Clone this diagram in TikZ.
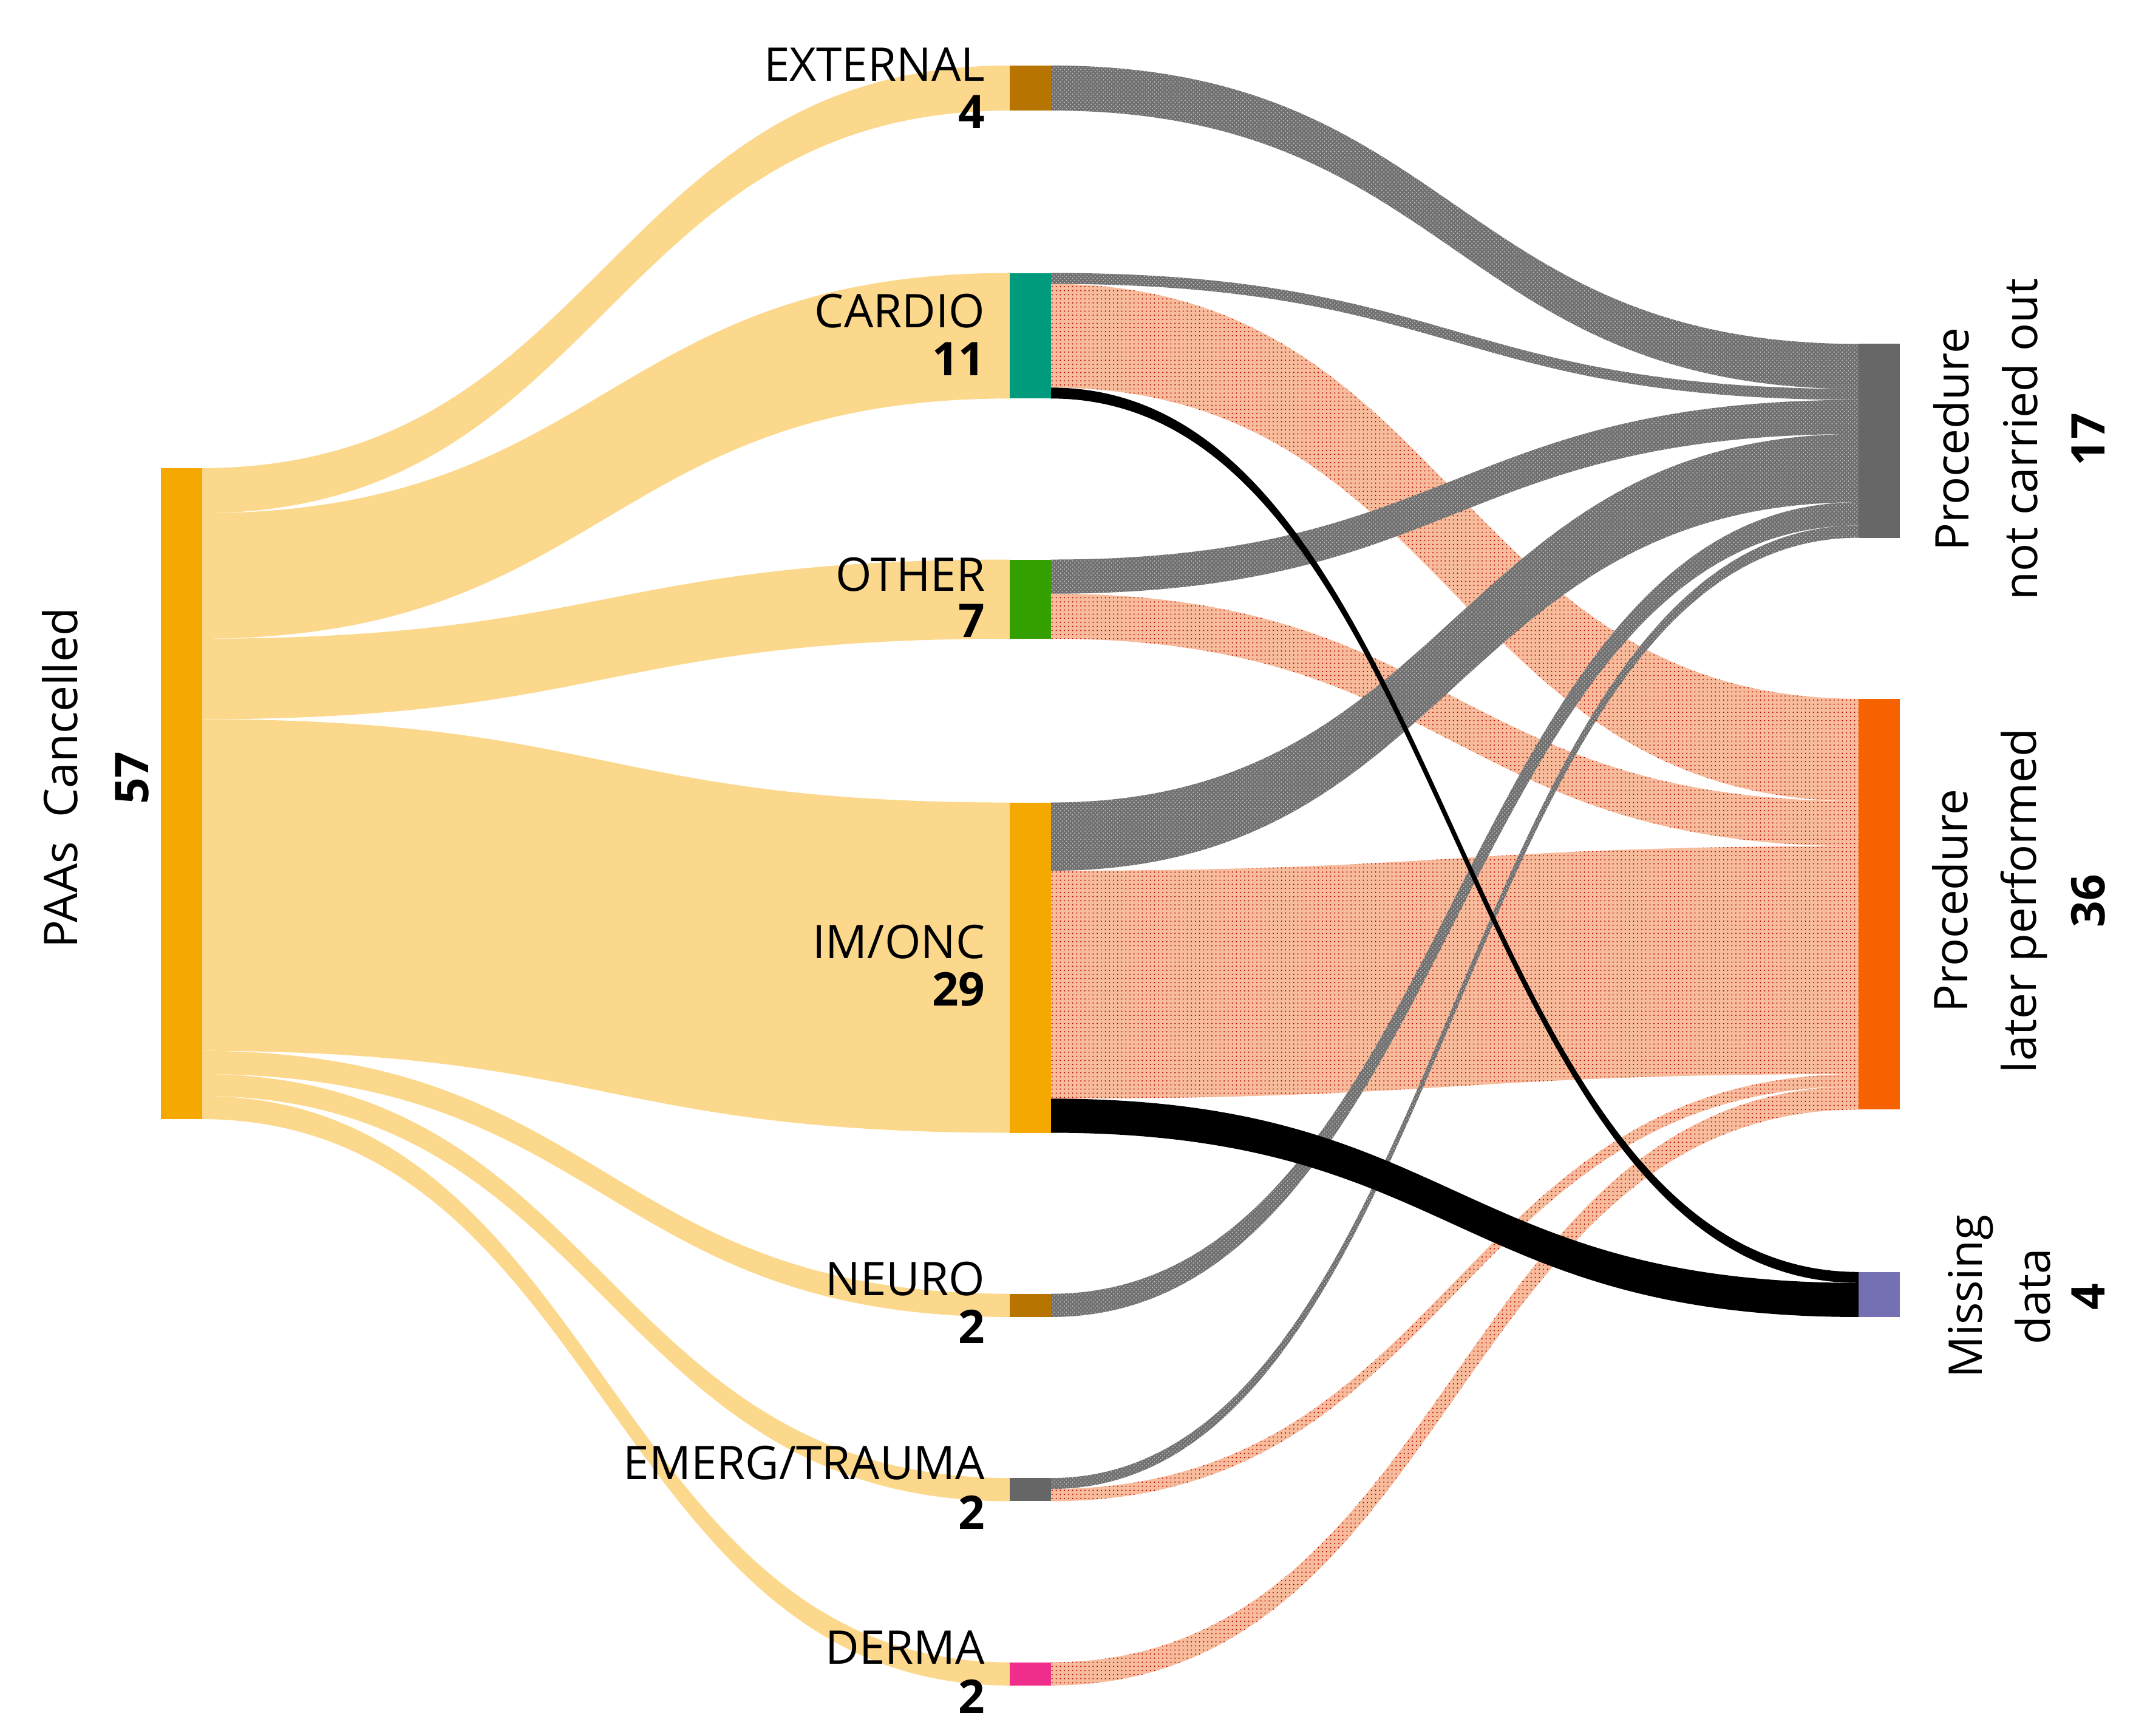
\documentclass[tikz,border=0pt]{standalone}
\usepackage{fontspec}
\setmainfont{Open Sans}
\usetikzlibrary{patterns}
\definecolor{lflow}{HTML}{FCD88C}
\definecolor{gflow}{HTML}{707070}
\definecolor{oflow}{HTML}{F7BC9C}
\definecolor{cpaa}{HTML}{F5A800}
\definecolor{cext}{HTML}{B87400}
\definecolor{ccar}{HTML}{009B7D}
\definecolor{coth}{HTML}{34A000}
\definecolor{cgray}{HTML}{666666}
\definecolor{cder}{HTML}{F02D8A}
\definecolor{cnot}{HTML}{676767}
\definecolor{clat}{HTML}{F66200}
\definecolor{cmis}{HTML}{7570B3}
\tikzset{
 lf/.style={fill=lflow},
 gf/.style={preaction={fill=gflow},pattern=crosshatch dots,pattern color=white!55!gflow},
 of/.style={preaction={fill=oflow},pattern=dots,pattern color=red!70!black},
 bf/.style={fill=black},
 bar/.style={draw=none,inner sep=0pt,outer sep=0pt,anchor=north west,minimum width=30pt},
 lab/.style={font=\fontsize{34}{40}\selectfont,anchor=east,inner sep=0pt},
 num/.style={font=\fontsize{34}{40}\selectfont\bfseries,anchor=east,inner sep=0pt},
 rlab/.style={font=\fontsize{34}{50}\selectfont,rotate=90,align=center,inner sep=0pt},
 rnum/.style={font=\fontsize{34}{40}\selectfont\bfseries,rotate=90,inner sep=0pt}
}
% flow: x1, ya, yb, x2, yc, yd, style
\newcommand{\flw}[7]{\path[#7] (#1,-#2) .. controls ({(#1+#4)/2},-#2) and ({(#1+#4)/2},-#5) .. (#4,-#5) -- (#4,-#6) .. controls ({(#1+#4)/2},-#6) and ({(#1+#4)/2},-#3) .. (#1,-#3) -- cycle;}
\begin{document}
\begin{tikzpicture}[x=1pt,y=1pt]
\useasboundingbox (0,0) rectangle (1563,-1272);
% left flows
\flw{147}{343}{376}{740}{48}{81}{lf}
\flw{147}{376}{468}{740}{200}{292}{lf}
\flw{147}{468}{527}{740}{410}{468}{lf}
\flw{147}{527}{770}{740}{588}{830}{lf}
\flw{147}{770}{787}{740}{948}{965}{lf}
\flw{147}{787}{803}{740}{1083}{1100}{lf}
\flw{147}{803}{820}{740}{1218}{1235}{lf}
% right flows: orange
\flw{770}{208}{284}{1362}{512}{587}{of}
\flw{770}{435}{468}{1362}{587}{620}{of}
\flw{770}{638}{805}{1362}{620}{787}{of}
\flw{770}{1091}{1100}{1362}{787}{796}{of}
\flw{770}{1218}{1235}{1362}{796}{813}{of}
% gray
\flw{770}{48}{81}{1362}{252}{285}{gf}
\flw{770}{200}{208}{1362}{285}{293}{gf}
\flw{770}{410}{435}{1362}{293}{318}{gf}
\flw{770}{588}{638}{1362}{318}{368}{gf}
\flw{770}{948}{965}{1362}{368}{385}{gf}
\flw{770}{1083}{1091}{1362}{385}{394}{gf}
% black
\flw{770}{284}{292}{1362}{932}{940}{bf}
\flw{770}{805}{830}{1362}{940}{965}{bf}
% bars
\node[bar,fill=cpaa,minimum height=477pt] (paa) at (118,-343) {};
\node[bar,fill=cext,minimum height=33pt] (ext) at (740,-48) {};
\node[bar,fill=ccar,minimum height=92pt] (car) at (740,-200) {};
\node[bar,fill=coth,minimum height=58pt] (oth) at (740,-410) {};
\node[bar,fill=cpaa,minimum height=242pt] (imo) at (740,-588) {};
\node[bar,fill=cext,minimum height=17pt] (neu) at (740,-948) {};
\node[bar,fill=cgray,minimum height=17pt] (emg) at (740,-1083) {};
\node[bar,fill=cder,minimum height=17pt] (der) at (740,-1218) {};
\node[bar,fill=cnot,minimum height=142pt] (not) at (1362,-252) {};
\node[bar,fill=clat,minimum height=301pt] (lat) at (1362,-512) {};
\node[bar,fill=cmis,minimum height=33pt] (mis) at (1362,-932) {};
% labels
\node[lab] (l1) at (722,-47) {EXTERNAL}; \node[num] (n1) at (722,-82) {4};
\node[lab] (l2) at (722,-228) {CARDIO}; \node[num] (n2) at (722,-263) {11};
\node[lab] (l3) at (722,-421) {OTHER}; \node[num] (n3) at (722,-455) {7};
\node[lab] (l4) at (722,-690) {IM/ONC}; \node[num] (n4) at (722,-725) {29};
\node[lab] (l5) at (722,-937) {NEURO}; \node[num] (n5) at (722,-972) {2};
\node[lab] (l6) at (722,-1072) {EMERG/TRAUMA}; \node[num] (n6) at (722,-1108) {2};
\node[lab] (l7) at (722,-1207) {DERMA}; \node[num] (n7) at (722,-1243) {2};
\node[rlab] (lp) at (44,-570) {PAAs\ \ Cancelled};
\node[rnum] (np) at (97,-570) {57};
\node[rlab] (lr1) at (1455,-322) {Procedure\\not carried out};
\node[rnum] (nr1) at (1530,-322) {17};
\node[rlab] (lr2) at (1458,-660) {Procedure\\later performed};
\node[rnum] (nr2) at (1530,-660) {36};
\node[rlab] (lr3) at (1465,-950) {Missing\\data};
\node[rnum] (nr3) at (1530,-950) {4};
\end{tikzpicture}
\end{document}
